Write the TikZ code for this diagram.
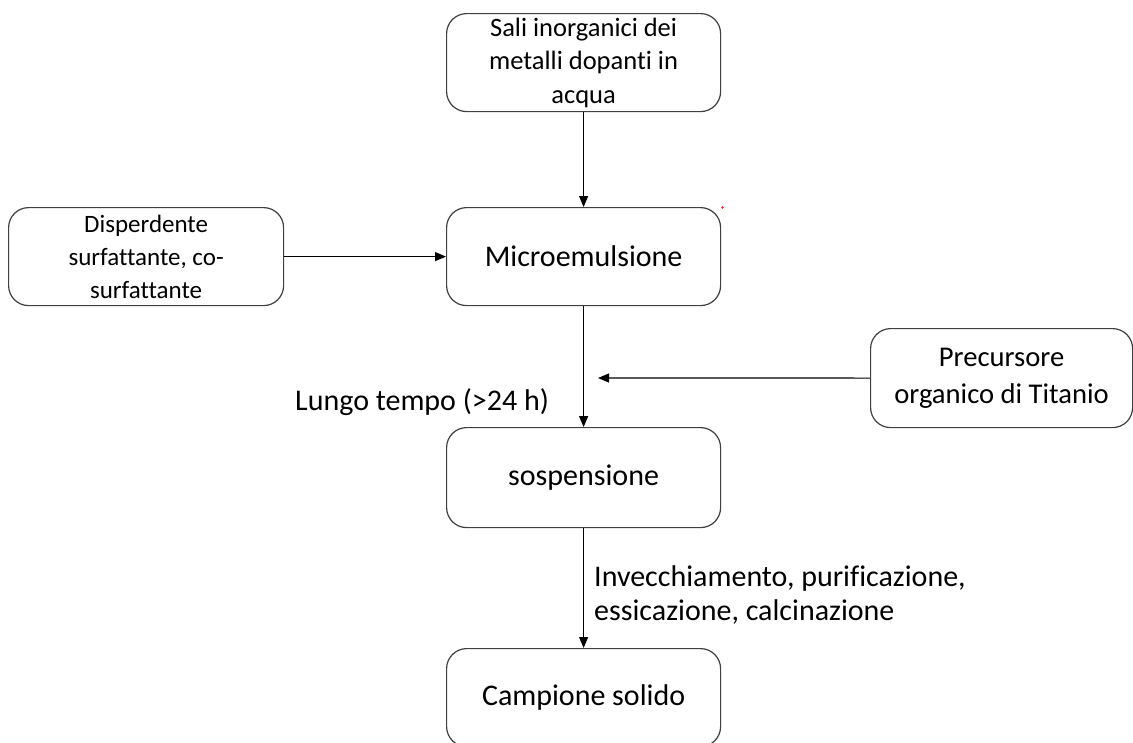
\documentclass[tikz,border=0pt]{standalone}
\usepackage{fontspec}
\setmainfont{Carlito}[Ligatures=NoCommon]
\usetikzlibrary{arrows.meta}
\begin{document}
\begin{tikzpicture}[x=1pt,y=-1pt,
  box/.style={draw=black!75,line width=1.2pt,rounded corners=20pt,minimum width=274pt,minimum height=98pt,inner sep=0pt,align=center,anchor=north west},
  smalltxt/.style={font=\fontsize{26.5}{33.5}\selectfont},
  disptxt/.style={font=\fontsize{25}{33}\selectfont},
  prectxt/.style={font=\fontsize{28.6}{37}\selectfont},
  bigtxt/.style={font=\fontsize{30}{34}\selectfont},
  arr/.style={draw=black,line width=1.2pt,-{Triangle[length=11pt,width=9pt]}},
  lbl/.style={font=\fontsize{30}{34}\selectfont,inner sep=0pt}]
\useasboundingbox (0,0) rectangle (1133,742);
\begin{scope}
\clip (0,0) rectangle (1133,742);
\node[box,smalltxt] (sali) at (446,13) {Sali inorganici dei\\metalli dopanti in\\acqua};
\node[box,bigtxt] (micro) at (446,207) {Microemulsione};
\node[box,disptxt,minimum width=275pt] (disp) at (8,207) {Disperdente\\surfattante, co-\\surfattante};
\node[box,prectxt,minimum width=262pt,minimum height=99pt] (prec) at (870,328) {Precursore\\organico di Titanio};
\node[box,bigtxt,minimum height=100pt] (sosp) at (446,427) {\raisebox{-4pt}{sospensione}};
\node[box,bigtxt] (camp) at (446,648) {Campione solido};
\coordinate (join) at (598,378);
\draw[arr] (sali.south) -- (micro.north);
\draw[arr] (disp.east) -- (micro.west);
\draw[arr] (micro.south) -- (sosp.north);
\draw[arr] (prec.west) -- (join);
\draw[arr] (sosp.south) -- (camp.north);
\node[lbl,anchor=west] (lungo) at (295,402) {Lungo tempo (>24 h)};
\node[lbl,anchor=west,align=left] (inv) at (594,595) {Invecchiamento, purificazione,\\essicazione, calcinazione};
\fill[red!85] (722.5,207.5) circle (1.3pt);
\end{scope}
\end{tikzpicture}
\end{document}
